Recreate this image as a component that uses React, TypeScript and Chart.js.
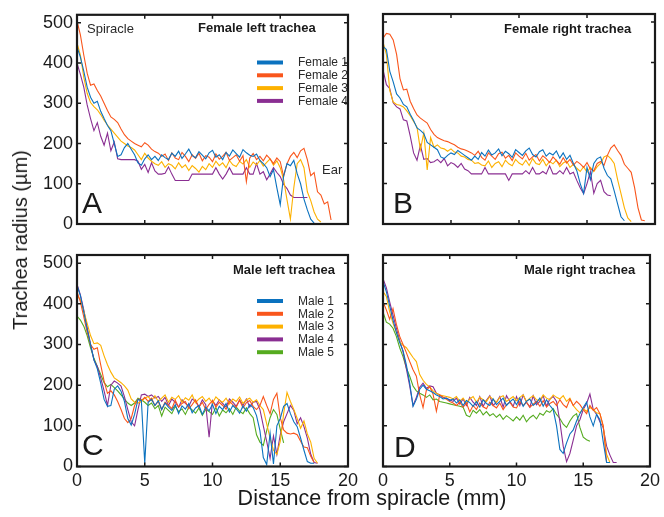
import React, { useEffect, useRef } from "react";
import { Chart, registerables } from "chart.js";

Chart.register(...registerables);

// ---------------- data (one value every 0.25 mm from the spiracle) ----------------
const STEP_MM = 0.25;
const X_TICKS = [0, 5, 10, 15, 20];
const Y_TICKS = [0, 100, 200, 300, 400, 500];

const FEMALE_LABELS = ["Female 1", "Female 2", "Female 3", "Female 4"];
const MALE_LABELS = ["Male 1", "Male 2", "Male 3", "Male 4", "Male 5"];

// A: female left trachea
const femaleLeft1 = [440,415,380,340,315,300,305,280,262,245,232,200,168,172,190,200,186,172,152,146,162,172,160,168,
  158,172,165,160,176,168,181,163,174,186,170,165,180,171,162,177,183,166,172,160,178,169,184,175,166,185,177,171,168,174,158,150,
  140,118,135,90,48,120,150,145,158,125,100,62,35,12,2];
const femaleLeft2 = [505,470,420,375,345,348,332,318,300,282,266,260,252,236,222,212,206,200,196,192,202,196,186,180,176,
  168,174,158,177,164,160,178,168,155,172,163,176,157,170,166,155,174,161,168,178,158,165,172,156,170,105,164,175,160,168,157,171,162,150,164,
  155,118,150,168,178,165,182,188,160,120,128,80,72,50,55,10];
const femaleLeft3 = [450,420,365,325,302,292,284,272,258,246,236,226,216,206,200,194,190,184,172,160,176,164,156,150,146,
  155,141,150,146,137,152,140,147,133,145,138,129,143,135,150,141,156,145,152,140,158,147,143,156,149,160,141,154,147,158,144,153,162,146,157,
  140,110,60,12,90,150,160,140,80,58,30,12,5];
const femaleLeft4 = [400,372,340,296,262,232,252,218,196,226,182,204,162,160,160,160,160,160,156,136,
  148,128,152,132,124,124,126,142,124,108,108,108,108,108,124,124,124,124,124,124,
  124,140,124,112,124,140,124,124,124,124,140,124,124,150,124,130,110,124,140,128,
  118,98,88,72,66,66,66,66,66];

// B: female right trachea
const femaleRight1 = [440,432,378,352,322,312,296,290,272,256,238,232,224,202,196,190,184,166,162,170,176,172,182,176,
  170,164,158,168,160,177,168,183,171,176,186,169,180,174,165,184,177,170,181,188,172,166,179,184,168,176,171,181,163,176,160,170,
  150,132,100,76,140,110,150,162,166,138,120,112,82,50,18,8];
const femaleRight2 = [460,472,470,456,420,360,332,334,304,286,270,262,256,250,234,222,214,210,206,204,200,196,190,186,184,180,176,170,
  180,165,158,176,168,160,174,178,163,170,157,176,168,161,175,158,166,172,156,169,162,152,166,157,148,164,151,160,146,155,149,140,
  152,136,132,150,155,145,170,188,196,182,170,148,138,128,90,40,10,8];
const femaleRight3 = [450,420,330,302,296,294,290,280,268,254,240,184,226,134,214,190,196,188,186,180,186,178,176,168,166,160,158,
  150,152,146,144,156,140,150,154,142,158,149,144,160,151,146,158,145,162,150,147,160,144,155,149,158,142,151,156,140,148,138,130,142,
  128,140,130,142,150,166,170,162,150,110,75,40,15,6];
const femaleRight4 = [382,345,335,300,290,285,258,255,218,176,158,195,160,162,152,154,160,152,162,144,
  152,148,140,150,136,132,124,124,124,124,140,124,124,124,124,124,124,108,124,124,
  124,124,132,124,140,124,124,130,124,144,124,124,132,124,140,124,128,108,90,75,
  100,130,76,100,108,80,72,70];

// C: male left trachea
const maleLeft1 = [445,420,380,338,300,262,240,205,165,148,150,190,198,185,160,118,102,128,165,162,8,
  158,165,150,162,140,156,146,138,152,130,149,141,155,132,144,150,128,146,137,153,130,148,140,155,134,150,142,131,149,136,152,145,
  125,88,22,5,82,6,100,118,148,155,130,110,98,70,40,12,8,8];
const maleLeft2 = [430,405,368,330,300,288,292,250,210,180,186,176,160,140,118,108,118,150,166,162,170,
  160,168,150,160,140,158,151,142,163,146,155,160,142,152,164,146,158,140,153,162,146,158,150,141,160,152,146,163,144,157,162,148,140,
  150,172,150,130,165,180,120,90,82,80,82,78,62,48,46,25,10];
const maleLeft3 = [420,410,382,352,322,302,304,298,272,250,232,218,212,206,198,188,166,158,156,160,
  168,172,162,174,160,168,176,158,170,165,174,158,169,163,176,157,166,172,160,168,156,171,163,158,168,154,166,160,171,155,164,168,158,164,
  150,140,105,70,40,30,62,130,182,160,140,118,94,112,80,60,20,8];
const maleLeft4 = [448,422,385,342,300,262,246,218,186,150,200,210,205,198,172,140,110,100,140,176,178,172,
  176,168,172,160,170,150,166,158,146,164,155,148,166,160,146,164,152,72,162,150,164,155,146,166,158,148,164,150,166,146,158,160,
  140,100,62,20,75,30,78,110,130,150,138,105,120,98,70,30,10,8];
const maleLeft5 = [370,360,345,322,292,266,246,226,206,196,202,194,186,176,166,156,150,156,168,164,158,
  150,156,142,150,124,146,138,130,148,135,142,128,146,139,131,144,126,140,135,128,145,124,139,132,142,128,146,136,130,144,130,
  120,78,60,52,88,120,140,128,92,58];

// D: male right trachea
const maleRight1 = [455,430,395,360,330,305,285,250,205,148,165,190,200,190,186,182,176,172,166,168,
  162,166,156,164,150,162,157,148,160,146,164,155,150,166,152,160,168,150,159,166,152,168,148,160,166,150,157,168,148,164,150,
  140,100,42,32,58,80,90,112,130,145,158,122,100,128,115,60,10,10];
const maleRight2 = [405,385,362,388,350,320,300,280,258,238,222,176,145,188,196,178,136,176,170,165,
  160,156,150,158,146,156,134,150,140,156,147,142,158,150,144,156,140,152,158,146,144,160,150,158,146,153,160,148,162,146,155,160,150,164,152,145,166,150,160,152,
  140,130,150,138,145,130,100,10];
const maleRight3 = [430,418,380,352,330,306,298,292,280,268,258,226,212,202,196,186,180,176,174,172,
  170,166,172,160,168,156,166,172,158,170,164,160,172,165,158,170,174,160,166,172,162,170,176,160,168,174,164,162,176,168,164,176,170,166,174,160,168,
  150,140,132,142,136,145,140,132,130,98,30,10];
const maleRight4 = [462,440,405,372,340,310,282,240,198,150,170,195,205,192,198,196,180,176,170,168,
  164,160,168,154,166,150,170,158,150,172,148,163,174,150,158,172,146,174,160,148,172,150,176,158,146,174,152,160,174,148,166,172,160,
  110,50,12,32,65,100,115,140,155,178,140,128,110,95,50,28,10,10];
const maleRight5 = [380,355,350,340,320,292,270,242,222,198,186,180,176,170,176,164,166,160,158,156,154,152,150,148,146,
  126,122,138,131,140,127,135,125,130,121,128,116,125,119,112,122,114,126,110,120,126,117,131,126,137,133,142,128,
  118,104,96,112,124,130,96,72,66,62];

// ---------------- styling ----------------
const COLORS = ["#0B72BF", "#F9561C", "#FDB100", "#8A2E92", "#55AB1F"];
const FONT = '"Liberation Sans", Arial, Helvetica, sans-serif';
const W = 664;
const H = 517;

type Area = { left: number; top: number; right: number; bottom: number };
type LegendPos = { x1: number; x2: number; tx: number; y0: number; dy: number } | null;
type PanelDef = {
  key: string;
  series: number[][];
  labels: string[];
  area: Area;
  showX: boolean;
  showY: boolean;
  legend: LegendPos;
};

const PANELS: PanelDef[] = [
  { key: "A", series: [femaleLeft1, femaleLeft2, femaleLeft3, femaleLeft4], labels: FEMALE_LABELS,
    area: { left: 77, top: 14, right: 348, bottom: 224 }, showX: false, showY: true,
    legend: { x1: 257, x2: 283, tx: 298, y0: 62.5, dy: 12.8 } },
  { key: "B", series: [femaleRight1, femaleRight2, femaleRight3, femaleRight4], labels: FEMALE_LABELS,
    area: { left: 383, top: 14, right: 655, bottom: 224 }, showX: false, showY: false, legend: null },
  { key: "C", series: [maleLeft1, maleLeft2, maleLeft3, maleLeft4, maleLeft5], labels: MALE_LABELS,
    area: { left: 77, top: 255, right: 348, bottom: 466.5 }, showX: true, showY: true,
    legend: { x1: 257, x2: 283, tx: 298, y0: 301, dy: 12.8 } },
  { key: "D", series: [maleRight1, maleRight2, maleRight3, maleRight4, maleRight5], labels: MALE_LABELS,
    area: { left: 383, top: 255, right: 654, bottom: 466.5 }, showX: true, showY: false, legend: null },
];

const framePlugin = {
  id: "frameTicks",
  afterDatasetsDraw(chart: any, _args: any, opts: any) {
    const { ctx, chartArea: a, scales } = chart;
    ctx.save();
    ctx.strokeStyle = "#1a1a1a";
    ctx.lineWidth = 1.5;
    const tl = 4;
    ctx.beginPath();
    for (const v of X_TICKS) {
      const px = scales.x.getPixelForValue(v);
      ctx.moveTo(px, a.bottom);
      ctx.lineTo(px, a.bottom - tl);
      ctx.moveTo(px, a.top);
      ctx.lineTo(px, a.top + tl);
    }
    for (const v of Y_TICKS) {
      const py = scales.y.getPixelForValue(v);
      ctx.moveTo(a.left, py);
      ctx.lineTo(a.left + tl, py);
      ctx.moveTo(a.right, py);
      ctx.lineTo(a.right - tl, py);
    }
    ctx.stroke();
    ctx.lineWidth = 2.2;
    ctx.strokeRect(a.left, a.top, a.right - a.left, a.bottom - a.top);

    const lg = opts && opts.legend;
    if (lg) {
      chart.data.datasets.forEach((ds: any, i: number) => {
        const y = lg.y0 + i * lg.dy;
        ctx.strokeStyle = ds.borderColor;
        ctx.lineWidth = 4;
        ctx.beginPath();
        ctx.moveTo(lg.x1, y);
        ctx.lineTo(lg.x2, y);
        ctx.stroke();
        ctx.fillStyle = "#2a2a2a";
        ctx.font = `12px ${FONT}`;
        ctx.textBaseline = "middle";
        ctx.textAlign = "left";
        ctx.fillText(ds.label, lg.tx, y + 0.5);
      });
    }
    ctx.restore();
  },
};

function Panel({ p }: { p: PanelDef }) {
  const ref = useRef<HTMLCanvasElement | null>(null);
  useEffect(() => {
    const yW = p.showY ? 40 : 0;
    const xH = p.showX ? 30 : 0;
    const chart = new Chart(ref.current as HTMLCanvasElement, {
      type: "line",
      data: {
        datasets: p.series.map((arr, i) => ({
          label: p.labels[i],
          data: arr.map((y, j) => ({ x: j * STEP_MM, y })),
          borderColor: COLORS[i],
          backgroundColor: COLORS[i],
          borderWidth: 1.1,
          pointRadius: 0,
          tension: 0,
          fill: false,
        })),
      },
      options: {
        animation: false,
        responsive: false,
        events: [],
        layout: {
          padding: {
            left: p.area.left - yW,
            top: p.area.top,
            right: W - p.area.right,
            bottom: H - p.area.bottom - xH,
          },
        },
        plugins: {
          legend: { display: false },
          tooltip: { enabled: false },
          frameTicks: { legend: p.legend },
        } as any,
        scales: {
          x: {
            type: "linear",
            min: 0,
            max: 20,
            ticks: {
              display: p.showX,
              stepSize: 5,
              padding: 4,
              maxRotation: 0,
              autoSkip: false,
              color: "#1a1a1a",
              font: { family: FONT, size: 18 },
            },
            grid: { display: false, drawTicks: false },
            border: { display: false },
            afterFit: (s: any) => { s.height = xH; },
          },
          y: {
            type: "linear",
            min: 0,
            max: 520,
            ticks: {
              display: p.showY,
              stepSize: 100,
              includeBounds: false,
              padding: 4,
              color: "#1a1a1a",
              font: { family: FONT, size: 18 },
            },
            afterBuildTicks: (s: any) => { s.ticks = s.ticks.filter((t: any) => t.value % 100 === 0); },
            grid: { display: false, drawTicks: false },
            border: { display: false },
            afterFit: (s: any) => { s.width = yW; },
          },
        },
      } as any,
      plugins: [framePlugin as any],
    });
    return () => chart.destroy();
  }, [p]);
  return (
    <canvas
      ref={ref}
      width={W}
      height={H}
      style={{ position: "absolute", left: 0, top: 0, width: W, height: H }}
    />
  );
}

const TITLES = [
  { text: "Female left trachea", left: 198, top: 20.5 },
  { text: "Female right trachea", left: 504, top: 22 },
  { text: "Male left trachea", left: 233, top: 263 },
  { text: "Male right trachea", left: 524, top: 263 },
];
const LETTERS = [
  { text: "A", left: 82, top: 188 },
  { text: "B", left: 393, top: 188 },
  { text: "C", left: 82, top: 430 },
  { text: "D", left: 394, top: 432 },
];

export default function App() {
  const base: React.CSSProperties = {
    position: "absolute",
    whiteSpace: "nowrap",
    lineHeight: 1,
    color: "#1a1a1a",
    fontFamily: FONT,
  };
  return (
    <div style={{ position: "fixed", left: 0, top: 0, width: W, height: H, background: "#fff", overflow: "hidden" }}>
      {PANELS.map((p) => (
        <Panel key={p.key} p={p} />
      ))}
      {TITLES.map((t) => (
        <div key={t.text} style={{ ...base, left: t.left, top: t.top, fontSize: 13, fontWeight: "bold" }}>{t.text}</div>
      ))}
      {LETTERS.map((t) => (
        <div key={t.text} style={{ ...base, left: t.left, top: t.top, fontSize: 30 }}>{t.text}</div>
      ))}
      <div style={{ ...base, left: 87, top: 22, fontSize: 13, color: "#2a2a2a" }}>Spiracle</div>
      <div style={{ ...base, left: 322, top: 163, fontSize: 13, color: "#2a2a2a" }}>Ear</div>
      <div style={{ ...base, left: 20, top: 240, fontSize: 20, transform: "translate(-50%, -50%) rotate(-90deg)" }}>
        Trachea radius (µm)
      </div>
      <div style={{ ...base, left: 372, top: 499, fontSize: 21.5, transform: "translate(-50%, -50%)" }}>
        Distance from spiracle (mm)
      </div>
    </div>
  );
}
